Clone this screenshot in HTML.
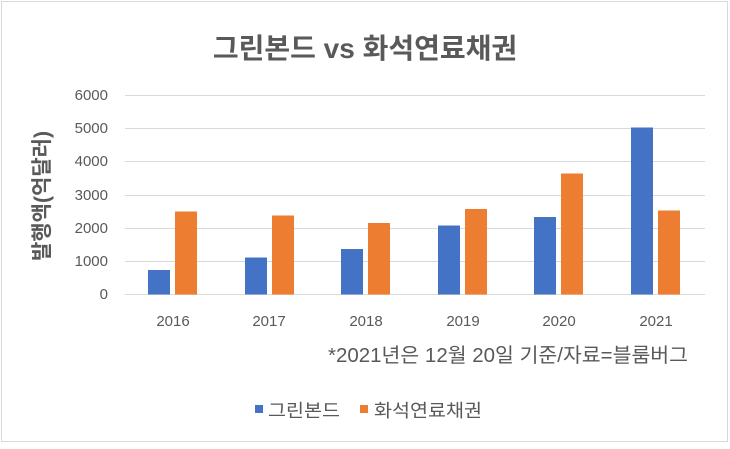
<!DOCTYPE html>
<html><head><meta charset="utf-8"><style>
body{margin:0;background:#fff;}
svg text{font-family:"Liberation Sans","Noto Sans CJK KR",sans-serif;}
</style></head><body>
<svg width="730" height="444" xmlns="http://www.w3.org/2000/svg">
<rect x="1.5" y="1.5" width="726" height="440" fill="#fff" stroke="#d9d9d9"/>
<text x="365" y="58" text-anchor="middle" font-size="28" font-weight="bold" fill="#595959">그린본드 vs 화석연료채권</text>
<g stroke="#d9d9d9" stroke-width="1">
<line x1="125" x2="705" y1="95.5" y2="95.5"/>
<line x1="125" x2="705" y1="128.5" y2="128.5"/>
<line x1="125" x2="705" y1="161.5" y2="161.5"/>
<line x1="125" x2="705" y1="195.5" y2="195.5"/>
<line x1="125" x2="705" y1="228.5" y2="228.5"/>
<line x1="125" x2="705" y1="261.5" y2="261.5"/>
<line x1="125" x2="705" y1="294.5" y2="294.5"/>
</g>
<g font-size="15" fill="#595959" text-anchor="end">
<text x="108" y="100">6000</text><text x="108" y="133">5000</text><text x="108" y="166">4000</text>
<text x="108" y="200">3000</text><text x="108" y="233">2000</text><text x="108" y="266">1000</text><text x="108" y="299">0</text>
</g>
<text transform="translate(49,196) rotate(-90)" text-anchor="middle" font-size="21" font-weight="bold" fill="#595959">발행액(억달러)</text>
<g font-size="15" fill="#595959" text-anchor="middle">
<text x="173" y="326">2016</text><text x="269" y="326">2017</text><text x="366" y="326">2018</text>
<text x="463" y="326">2019</text><text x="559" y="326">2020</text><text x="656" y="326">2021</text>
</g>
<text x="328" y="362" font-size="20" fill="#595959" textLength="360" lengthAdjust="spacingAndGlyphs">*2021년은 12월 20일 기준/자료=블룸버그</text>
<rect x="255" y="405" width="8" height="8" fill="#4472c4"/>
<text x="268" y="417" font-size="18" fill="#595959" textLength="72" lengthAdjust="spacingAndGlyphs">그린본드</text>
<rect x="360" y="405" width="8" height="8" fill="#ed7d31"/>
<text x="374" y="417" font-size="18" fill="#595959" textLength="108" lengthAdjust="spacingAndGlyphs">화석연료채권</text>
<g>
<rect x="148" y="270" width="22" height="24.5" fill="#4472c4"/>
<rect x="175" y="211.5" width="22" height="83" fill="#ed7d31"/>
<rect x="245" y="257.5" width="22" height="37" fill="#4472c4"/>
<rect x="272" y="215.5" width="22" height="79" fill="#ed7d31"/>
<rect x="341" y="249" width="22" height="45.5" fill="#4472c4"/>
<rect x="368" y="223" width="22" height="71.5" fill="#ed7d31"/>
<rect x="438" y="225.5" width="22" height="69" fill="#4472c4"/>
<rect x="465" y="209" width="22" height="85.5" fill="#ed7d31"/>
<rect x="534" y="217" width="22" height="77.5" fill="#4472c4"/>
<rect x="561" y="173.5" width="22" height="121" fill="#ed7d31"/>
<rect x="631" y="127.5" width="22" height="167" fill="#4472c4"/>
<rect x="658" y="210.5" width="22" height="84" fill="#ed7d31"/>
</g>
</svg>
</body></html>
